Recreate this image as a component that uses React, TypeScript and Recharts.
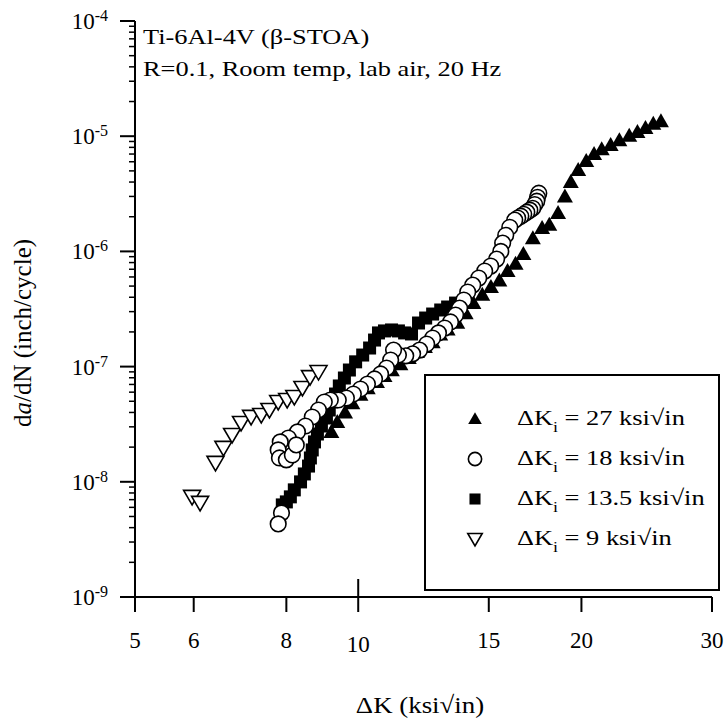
import React from 'react';
import { ScatterChart, Scatter, XAxis, YAxis, Legend, Customized } from 'recharts';

const FONT = '"Liberation Serif", "Times New Roman", serif';

// axis ticks
const xTicks = [5, 6, 8, 10, 15, 20, 30];
const yMajor = [1e-9, 1e-8, 1e-7, 1e-6, 1e-5, 1e-4];
const yMinorMult = [2, 3, 4, 5, 6, 7, 8, 9];

// ΔKi = 27 ksi√in (filled triangles)
const dk27 = [25.6, 25.0, 24.4, 23.8, 23.2, 22.5, 21.9, 21.3, 20.8, 20.3, 19.8, 19.35, 19.0, 18.6, 18.1, 17.7, 17.2, 16.7, 16.3, 15.9, 15.5, 15.1, 14.7, 14.3, 13.96, 13.6, 13.2, 12.9, 12.6, 12.3, 12.0, 11.7, 11.4, 11.1, 10.85, 10.6, 10.3, 10.07, 9.82, 9.6, 9.37, 9.2];
const rate27 = [1.35e-5, 1.28e-5, 1.18e-5, 1.09e-5, 1.01e-5, 9.2e-6, 8.4e-6, 7.7e-6, 7.0e-6, 6.1e-6, 5.1e-6, 4.0e-6, 3.0e-6, 2.15e-6, 1.7e-6, 1.6e-6, 1.3e-6, 9.5e-7, 7.8e-7, 6.75e-7, 5.6e-7, 4.9e-7, 4.2e-7, 3.56e-7, 2.9e-7, 2.4e-7, 2.1e-7, 1.9e-7, 1.63e-7, 1.48e-7, 1.34e-7, 1.19e-7, 1.05e-7, 9.3e-8, 8.3e-8, 7.35e-8, 6.5e-8, 5.7e-8, 4.8e-8, 4.0e-8, 3.3e-8, 2.7e-8];

// ΔKi = 18 ksi√in (open circles)
const dk18 = [17.52, 17.45, 17.41, 17.3, 17.19, 17.04, 16.88, 16.72, 16.57, 16.41, 16.26, 16.01, 15.81, 15.66, 15.57, 15.37, 15.09, 14.81, 14.54, 14.27, 14.05, 13.88, 13.7, 13.53, 13.32, 13.08, 12.83, 12.6, 12.37, 12.1, 11.84, 11.59, 11.33, 11.16, 11.06, 10.92, 10.72, 10.52, 10.29, 10.07, 9.85, 9.64, 9.4, 9.17, 9.0, 8.84, 8.67, 8.49, 8.28, 8.05, 7.85, 7.8, 7.83, 8.0, 8.15, 8.25, 7.88, 7.8];
const rate18 = [3.2e-6, 2.95e-6, 2.73e-6, 2.55e-6, 2.37e-6, 2.28e-6, 2.19e-6, 2.1e-6, 2.02e-6, 1.95e-6, 1.87e-6, 1.62e-6, 1.38e-6, 1.18e-6, 1.0e-6, 8.57e-7, 7.46e-7, 6.75e-7, 5.87e-7, 5.1e-7, 4.44e-7, 3.78e-7, 3.22e-7, 2.8e-7, 2.44e-7, 2.16e-7, 1.96e-7, 1.77e-7, 1.57e-7, 1.39e-7, 1.29e-7, 1.24e-7, 1.26e-7, 1.39e-7, 1.14e-7, 9.72e-8, 8.63e-8, 7.81e-8, 7.06e-8, 6.39e-8, 5.78e-8, 5.34e-8, 5.13e-8, 5.13e-8, 4.93e-8, 4.2e-8, 3.65e-8, 3.05e-8, 2.71e-8, 2.4e-8, 2.22e-8, 1.89e-8, 1.61e-8, 1.55e-8, 1.71e-8, 2.09e-8, 5.37e-9, 4.31e-9];

// ΔKi = 13.5 ksi√in (filled squares)
const dk135 = [13.53, 13.2, 12.92, 12.6, 12.33, 12.06, 11.8, 11.55, 11.33, 11.09, 10.85, 10.65, 10.52, 10.36, 10.14, 9.92, 9.73, 9.58, 9.43, 9.32, 9.2, 9.14, 9.06, 8.92, 8.81, 8.73, 8.67, 8.62, 8.57, 8.46, 8.36, 8.2, 8.1, 8.0, 7.9];
const rate135 = [3.56e-7, 3.29e-7, 3.1e-7, 2.86e-7, 2.64e-7, 2.39e-7, 1.92e-7, 1.96e-7, 2.04e-7, 2.08e-7, 2.04e-7, 1.96e-7, 1.7e-7, 1.45e-7, 1.26e-7, 1.1e-7, 9.34e-8, 7.96e-8, 6.79e-8, 5.78e-8, 4.93e-8, 4.2e-8, 3.58e-8, 3.05e-8, 2.6e-8, 2.22e-8, 1.89e-8, 1.61e-8, 1.37e-8, 1.17e-8, 9.98e-9, 8.51e-9, 7.4e-9, 6.69e-9, 6.3e-9];

// ΔKi = 9 ksi√in (open inverted triangles)
const dk9 = [5.97, 6.12, 6.42, 6.58, 6.76, 6.95, 7.17, 7.4, 7.59, 7.8, 8.02, 8.2, 8.41, 8.61, 8.84];
const rate9 = [7.4e-9, 6.56e-9, 1.46e-8, 1.97e-8, 2.55e-8, 3.24e-8, 3.66e-8, 3.8e-8, 4.2e-8, 4.93e-8, 5.13e-8, 5.45e-8, 6.52e-8, 8.11e-8, 8.97e-8];

const legendLabels = ['27', '18', '13.5', '9'];

const toPoints = (xs: number[], ys: number[]) => xs.map((x, i) => ({ x, y: ys[i] }));

const yTicks = [
  ...yMajor,
  ...yMajor.slice(0, -1).flatMap((d) => yMinorMult.map((m) => m * d)),
];

const TriUp = ({ cx, cy, s = 1 }: any) => (
  <polygon points={`${cx},${cy - 8 * s} ${cx - 8 * s},${cy + 6 * s} ${cx + 8 * s},${cy + 6 * s}`} fill="#000" />
);
const OpenCircle = ({ cx, cy, s = 1 }: any) => (
  <circle cx={cx} cy={cy} r={7.8 * s} fill="#fff" stroke="#000" strokeWidth={1.6} />
);
const FilledSquare = ({ cx, cy, s = 1 }: any) => (
  <rect x={cx - 6.5 * s} y={cy - 6.5 * s} width={13 * s} height={13 * s} fill="#000" />
);
const TriDown = ({ cx, cy, s = 1 }: any) => (
  <polygon points={`${cx - 8.5 * s},${cy - 6.5 * s} ${cx + 8.5 * s},${cy - 6.5 * s} ${cx},${cy + 8 * s}`} fill="#fff" stroke="#000" strokeWidth={1.6} />
);

const markers = [TriUp, OpenCircle, FilledSquare, TriDown];

const XTick = ({ x, y, payload }: any) => {
  const v = payload.value;
  const isTen = v === 10;
  return (
    <g>
      <line x1={x} x2={x} y1={isTen ? y - 18 : y} y2={y + 15} stroke="#000" strokeWidth={2} />
      <text x={x} y={isTen ? y + 55 : y + 51} textAnchor="middle" fontFamily={FONT} fontSize={23} fill="#000">
        {v}
      </text>
    </g>
  );
};

const YTick = ({ x, y, payload }: any) => {
  const v = payload.value;
  const idx = yMajor.indexOf(v);
  if (idx < 0) {
    return <line x1={x - 6} x2={x} y1={y} y2={y} stroke="#000" strokeWidth={1.5} />;
  }
  const exp = -9 + idx;
  return (
    <g>
      <line x1={x - 15} x2={x} y1={y} y2={y} stroke="#000" strokeWidth={2} />
      <text x={x - 27} y={y + 8} textAnchor="end" fontFamily={FONT} fontSize={23} fill="#000">
        10<tspan fontSize={16} dy={-8}>{exp}</tspan>
      </text>
    </g>
  );
};

const LegendBox = () => (
  <div style={{ width: 296, height: 217, border: '2px solid #000', boxSizing: 'border-box', background: '#fff' }}>
    <svg width={292} height={213}>
      {legendLabels.map((lab, i) => {
        const M = markers[i];
        const cy = 43 + i * 40;
        return (
          <g key={lab}>
            <M cx={49} cy={cy} s={0.85} />
            <text transform={`translate(91,${cy + 6}) scale(1.2,1)`} fontFamily={FONT} fontSize={22} fill="#000">
              ΔK<tspan fontSize={15} dy={7}>i</tspan>
              <tspan dy={-7}>{` = ${lab} ksi√in`}</tspan>
            </text>
          </g>
        );
      })}
    </svg>
  </div>
);

const Annotations = () => (
  <g fontFamily={FONT} fill="#000">
    <text transform="translate(143,44) scale(1.2,1)" fontSize={22}>Ti-6Al-4V (β-STOA)</text>
    <text transform="translate(143,76) scale(1.2,1)" fontSize={22}>R=0.1, Room temp, lab air, 20 Hz</text>
    <text transform="translate(420,713) scale(1.12,1)" fontSize={24} textAnchor="middle">ΔK (ksi√in)</text>
    <text transform="translate(31,333) rotate(-90)" fontSize={25} textAnchor="middle">
      d<tspan fontStyle="italic">a</tspan>/dN (inch/cycle)
    </text>
  </g>
);

export default function App() {
  return (
    <div style={{ position: 'absolute', left: 0, top: 0, background: '#fff' }}>
      <ScatterChart width={727} height={723} margin={{ top: 21, right: 15, bottom: 0, left: 0 }}>
        <XAxis
          type="number"
          dataKey="x"
          scale="log"
          domain={[5, 30]}
          ticks={xTicks}
          interval={0}
          allowDataOverflow
          height={126}
          tickSize={0}
          tickMargin={0}
          tickLine={false}
          axisLine={{ stroke: '#000', strokeWidth: 2 }}
          tick={<XTick />}
        />
        <YAxis
          type="number"
          dataKey="y"
          scale="log"
          domain={[1e-9, 1e-4]}
          ticks={yTicks}
          interval={0}
          allowDataOverflow
          width={135}
          tickSize={0}
          tickMargin={0}
          tickLine={false}
          axisLine={{ stroke: '#000', strokeWidth: 2 }}
          tick={<YTick />}
        />
        <Scatter name="ΔKi = 27 ksi√in" data={toPoints(dk27, rate27)} shape={<TriUp />} isAnimationActive={false} />
        <Scatter name="ΔKi = 13.5 ksi√in" data={toPoints(dk135, rate135)} shape={<FilledSquare />} isAnimationActive={false} />
        <Scatter name="ΔKi = 18 ksi√in" data={toPoints(dk18, rate18)} shape={<OpenCircle />} isAnimationActive={false} />
        <Scatter name="ΔKi = 9 ksi√in" data={toPoints(dk9, rate9)} shape={<TriDown />} isAnimationActive={false} />
        <Legend
          layout="horizontal"
          verticalAlign="middle"
          align="center"
          content={<LegendBox />}
          wrapperStyle={{ position: 'absolute', left: 424, top: 374, width: 296, height: 217 }}
        />
        <Customized component={<Annotations />} />
      </ScatterChart>
    </div>
  );
}
